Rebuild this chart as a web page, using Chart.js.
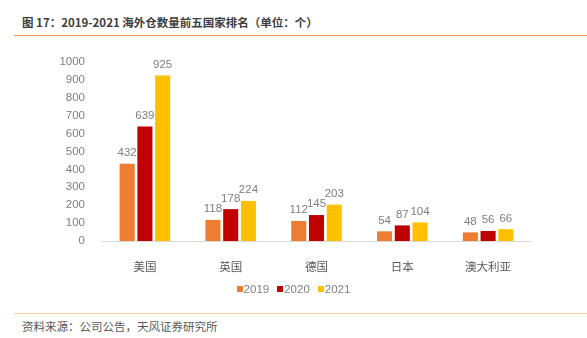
<!DOCTYPE html>
<html>
<head>
<meta charset="utf-8">
<script src="https://cdn.jsdelivr.net/npm/chart.js@4"></script>
<style>
  body { margin: 0; width: 587px; height: 338px; background: #fff; position: relative; overflow: hidden; font-family: "Noto Sans CJK SC", sans-serif; }
  #title { position: absolute; left: 22px; top: 14px; font-size: 11.5px; font-weight: bold; color: #404040; white-space: nowrap; }
  #topLine { position: absolute; left: 14px; top: 35px; width: 573px; height: 0; border-top: 1.5px solid #f79646; }
  #wrap { position: absolute; left: 0; top: 40px; width: 587px; height: 265px; }
  #legend { position: absolute; left: 0; top: 282px; width: 587px; text-align: center; font-family: "Liberation Sans Narrow", "Liberation Sans", sans-serif; font-size: 11.5px; color: #7f7f7f; line-height: 14px; }
  #legend span.item { margin: 0 4px; }
  #legend span.box { display: inline-block; width: 6px; height: 6px; margin-right: 1px; vertical-align: 1px; }
  #botLine { position: absolute; left: 14px; top: 313px; width: 573px; height: 0; border-top: 1.5px solid #fbc9a0; }
  #source { position: absolute; left: 22px; top: 318px; font-size: 11.5px; color: #595959; white-space: nowrap; }
</style>
</head>
<body>
<div id="title">图 17：2019-2021 海外仓数量前五国家排名（单位：个）</div>
<div id="topLine"></div>
<div id="wrap"><canvas id="haiwaiChart"></canvas></div>
<div id="legend"></div>
<div id="botLine"></div>
<div id="source">资料来源：公司公告，天风证券研究所</div>
<script>
// データ
const countries = ["美国", "英国", "德国", "日本", "澳大利亚"];
const years = ["2019", "2020", "2021"];
const values2019 = [432, 118, 112, 54, 48];
const values2020 = [639, 178, 145, 87, 56];
const values2021 = [925, 224, 203, 104, 66];
const yearColors = ["#ed7d31", "#c00000", "#ffc000"];

const numFont = "'Liberation Sans', 'Noto Sans CJK SC', sans-serif";

// 棒の上に数値を表示
const valueLabelPlugin = {
  id: "valueLabel",
  afterDatasetsDraw(chart) {
    const ctx = chart.ctx;
    ctx.save();
    ctx.font = "11.5px " + numFont;
    ctx.fillStyle = "#7f7f7f";
    ctx.textAlign = "center";
    ctx.textBaseline = "bottom";
    chart.data.datasets.forEach(function (ds, i) {
      chart.getDatasetMeta(i).data.forEach(function (bar, j) {
        ctx.fillText(ds.data[j], bar.x, bar.y - 5);
      });
    });
    ctx.restore();
  },
};

const seriesList = [values2019, values2020, values2021];

const haiwaiConfig = {
  type: "bar",
  data: {
    labels: countries,
    datasets: years.map(function (y, i) {
      return {
        label: y,
        data: seriesList[i],
        backgroundColor: yearColors[i],
        barPercentage: 0.85,
        categoryPercentage: 0.62,
      };
    }),
  },
  options: {
    responsive: true,
    maintainAspectRatio: false,
    animation: false,
    layout: {
      padding: { left: 40, right: 56, top: 22, bottom: 31 },
    },
    plugins: {
      legend: { display: false },
      tooltip: { enabled: false },
    },
    scales: {
      x: {
        grid: { display: false },
        border: { color: "#d9d9d9", width: 1 },
        ticks: {
          color: "#595959",
          padding: 11,
          font: { size: 11.5, family: "'Noto Sans CJK SC', sans-serif" },
        },
        afterFit: function (scale) {
          scale.height = 33;
        },
      },
      y: {
        min: 0,
        max: 1000,
        grid: { display: false },
        border: { display: false },
        ticks: {
          stepSize: 100,
          color: "#7f7f7f",
          padding: 9,
          font: { size: 11.5, family: numFont },
          callback: function (v) {
            return String(v);
          },
        },
        afterFit: function (scale) {
          scale.width = 62;
        },
      },
    },
  },
  plugins: [valueLabelPlugin],
};

new Chart(document.getElementById("haiwaiChart"), haiwaiConfig);

// 凡例（HTML）
const legendEl = document.getElementById("legend");
years.forEach(function (y, i) {
  const item = document.createElement("span");
  item.className = "item";
  const box = document.createElement("span");
  box.className = "box";
  box.style.background = yearColors[i];
  item.appendChild(box);
  item.appendChild(document.createTextNode(y));
  legendEl.appendChild(item);
});
</script>
</body>
</html>
